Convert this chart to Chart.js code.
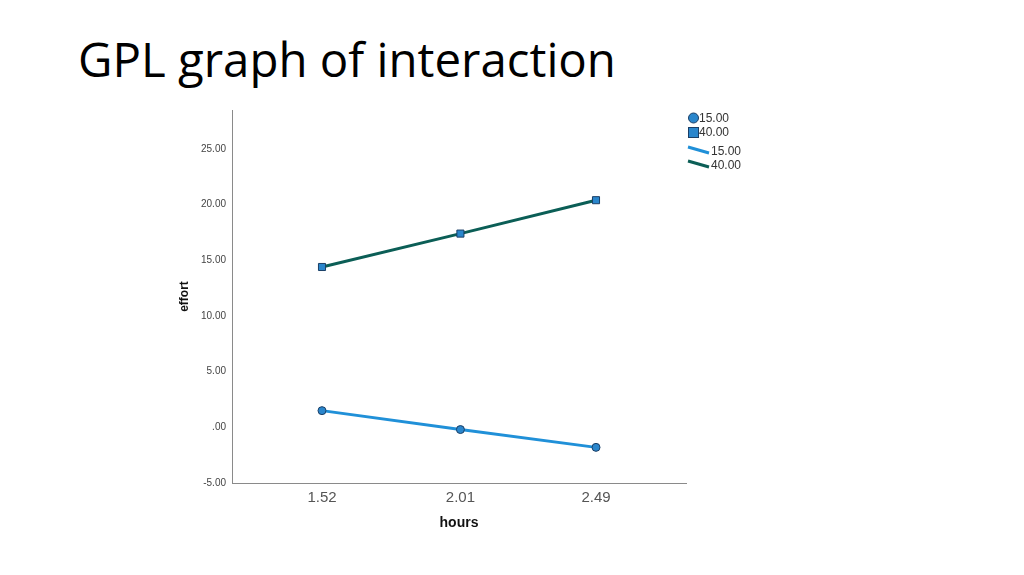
<!DOCTYPE html>
<html>
<head>
<meta charset="utf-8">
<script src="https://cdn.jsdelivr.net/npm/chart.js@4/dist/chart.umd.min.js"></script>
<style>
  html, body { margin: 0; padding: 0; background: #fff; }
  body { width: 1024px; height: 575px; position: relative; overflow: hidden; }
  h1 { position: absolute; left: 78px; top: 31px; margin: 0; font-family: "Open Sans", "Noto Sans", sans-serif; font-weight: 400; font-size: 47.4px; color: #000; line-height: 1.2; white-space: nowrap; }
  #wrap { position: absolute; left: 0; top: 0; width: 1024px; height: 575px; }
</style>
</head>
<body>
<h1>GPL graph of interaction</h1>
<div id="wrap"><canvas id="c" width="1024" height="575"></canvas></div>
<script>
const hours = [1.52, 2.01, 2.49];
const groupLabels = ["15.00", "40.00"];
const effort15 = [1.5, -0.2, -1.8];
const effort40 = [14.4, 17.4, 20.4];
const yTicks = [-5, 0, 5, 10, 15, 20, 25];

const lineColors = ["#2090d8", "#0b5e56"];
const markerFill = "#2a86cc";
const markerBorder = "#1b3f66";

const legendPlugin = {
  id: "spssLegend",
  afterDraw(chart) {
    const ctx = chart.ctx;
    ctx.save();
    ctx.font = "12px 'Liberation Sans', Arial, sans-serif";
    ctx.textBaseline = "middle";
    ctx.lineWidth = 1;
    ctx.strokeStyle = markerBorder;
    ctx.fillStyle = markerFill;
    ctx.beginPath(); ctx.arc(693.5, 118, 5, 0, Math.PI * 2); ctx.fill(); ctx.stroke();
    ctx.fillRect(688.5, 127.5, 10, 10); ctx.strokeRect(688.5, 127.5, 10, 10);
    ctx.fillStyle = "#333";
    ctx.fillText(groupLabels[0], 699, 118.5);
    ctx.fillText(groupLabels[1], 699, 132.5);
    ctx.lineWidth = 3;
    ctx.strokeStyle = lineColors[0];
    ctx.beginPath(); ctx.moveTo(688, 147); ctx.lineTo(709, 153); ctx.stroke();
    ctx.strokeStyle = lineColors[1];
    ctx.beginPath(); ctx.moveTo(688, 161); ctx.lineTo(709, 167); ctx.stroke();
    ctx.fillText(groupLabels[0], 711, 151.5);
    ctx.fillText(groupLabels[1], 711, 165.5);
    ctx.restore();
  }
};

new Chart(document.getElementById("c"), {
  type: "line",
  data: {
    datasets: [
      {
        label: groupLabels[0],
        data: hours.map((h, i) => ({ x: h, y: effort15[i] })),
        borderColor: lineColors[0],
        borderWidth: 3,
        pointStyle: "circle",
        pointRadius: 4,
        pointBackgroundColor: markerFill,
        pointBorderColor: markerBorder,
        pointBorderWidth: 1
      },
      {
        label: groupLabels[1],
        data: hours.map((h, i) => ({ x: h, y: effort40[i] })),
        borderColor: lineColors[1],
        borderWidth: 3,
        pointStyle: "rect",
        pointRadius: 5,
        pointBackgroundColor: markerFill,
        pointBorderColor: markerBorder,
        pointBorderWidth: 1
      }
    ]
  },
  options: {
    responsive: false,
    animation: false,
    layout: { padding: { left: 170, right: 338, top: 110, bottom: 32 } },
    plugins: { legend: { display: false }, tooltip: { enabled: false } },
    scales: {
      x: {
        type: "linear",
        min: 1.2014,
        max: 2.8086,
        afterBuildTicks: (s) => { s.ticks = hours.map(v => ({ value: v })); },
        afterFit: (s) => { s.height = 60; },
        grid: { display: false, drawTicks: false },
        border: { color: "#8a8a8a", width: 1 },
        ticks: {
          padding: 6,
          color: "#555",
          font: { family: "'Liberation Sans', Arial, sans-serif", size: 15 },
          callback: (v) => v.toFixed(2)
        },
        title: {
          display: true, text: "hours", color: "#111",
          font: { family: "'Liberation Sans', Arial, sans-serif", size: 14, weight: "bold" },
          padding: { top: 0, bottom: 11 }
        }
      },
      y: {
        min: -5,
        max: 28.5,
        afterBuildTicks: (s) => { s.ticks = yTicks.map(v => ({ value: v })); },
        afterFit: (s) => { s.width = 62; },
        grid: { display: false, drawTicks: false },
        border: { color: "#8a8a8a", width: 1 },
        ticks: {
          padding: 6,
          color: "#444",
          font: { family: "'Liberation Sans', Arial, sans-serif", size: 10 },
          callback: (v) => v === 0 ? ".00" : v.toFixed(2)
        },
        title: {
          display: true, text: "effort", color: "#111",
          font: { family: "'Liberation Sans', Arial, sans-serif", size: 12, weight: "bold" },
          padding: { top: 7, bottom: 0 }
        }
      }
    }
  },
  plugins: [legendPlugin]
});
</script>
</body>
</html>
